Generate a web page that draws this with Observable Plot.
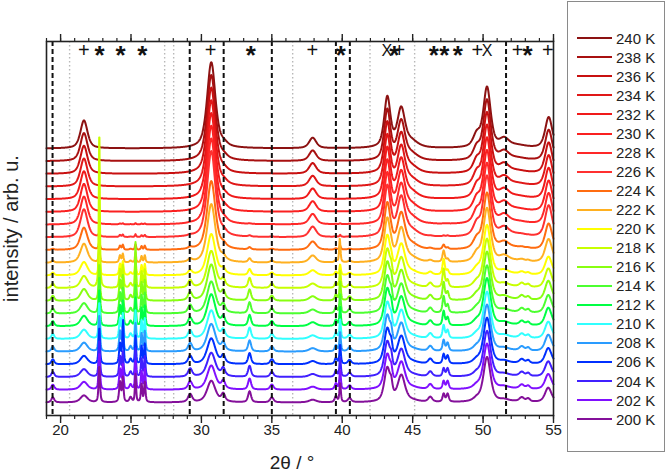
<!DOCTYPE html>
<html>
<head>
<meta charset="utf-8">
<script src="https://cdn.jsdelivr.net/npm/d3@7"></script>
<script src="https://cdn.jsdelivr.net/npm/@observablehq/plot@0.6"></script>
<style>
  body { margin: 0; background: #fff; font-family: "Liberation Sans", Arial, sans-serif; }
  #wrap { position: relative; width: 666px; height: 473px; }
  #chart { position: absolute; left: 0; top: 0; }
  #legend { position: absolute; left: 567px; top: 1px; width: 98px; height: 451px;
            border: 1px solid #8a8a8a; box-sizing: border-box; background: #fff; }
  .row { position: absolute; left: 9px; height: 19px; display: flex; align-items: center; }
  .row .sw { width: 35px; height: 0; border-top: 2.5px solid; margin-right: 4px; }
  .row span { font-size: 15px; color: #222; line-height: 19px; }
</style>
</head>
<body>
<div id="wrap"><div id="chart"></div><div id="legend"></div></div>
<script>
// Measurement temperatures (K), lowest first
const temperatures = [200, 202, 204, 206, 208, 210, 212, 214, 216, 218, 220,
                      222, 224, 226, 228, 230, 232, 234, 236, 238, 240];
const traceColors = ["#84109a", "#8010ff", "#4020ff", "#0030ff", "#2a9cff", "#30ffff", "#00ff44",
                     "#4cff30", "#88ff10", "#c8ff00", "#ffff00", "#ffb020", "#ff6c10", "#ff3030",
                     "#ff2828", "#fa2020", "#f01a1a", "#e01818", "#c81010", "#a81010", "#8c1212"];
const traceOffset = 12.7;   // vertical shift between successive patterns

// Reflections seen at every temperature: [2θ, FWHM, height]
const commonPeaks = [
  [43.20, 0.50, 28],
  [44.20, 0.60, 22],
  [50.28, 0.60, 40]
];

// High-temperature phase (+): [2θ, FWHM, height at full fraction]
const highPeaks = [
  [21.66, 0.60, 28],
  [30.70, 0.70, 86],
  [31.60, 0.60, 3],
  [37.90, 0.60, 10.5],
  [43.20, 0.55, 22],
  [44.16, 0.70, 16],
  [44.90, 1.10, 6],
  [49.55, 0.60, 12],
  [50.28, 0.65, 20],
  [51.50, 0.80, 8],
  [52.40, 1.60, 2.5],
  [54.66, 0.60, 31]
];
const highFraction = [0.25, 0.28, 0.28, 0.30, 0.32, 0.33, 0.37, 0.37, 0.42, 0.43, 0.48,
                      0.68, 0.80, 1, 1, 1, 1, 1, 1, 1, 1];

// Low-temperature phase (*): [2θ, FWHM, height at full fraction]
const lowPeaks = [
  [19.45, 0.25, 5],
  [22.75, 0.12, 36],
  [24.22, 0.15, 20],
  [24.42, 0.12, 24],
  [24.97, 0.20, 5],
  [25.32, 0.10, 28],
  [25.75, 0.12, 18],
  [25.98, 0.12, 20],
  [29.20, 0.35, 8],
  [31.55, 0.30, 7],
  [33.42, 0.25, 11],
  [35.00, 0.30, 5],
  [39.55, 0.20, 6],
  [39.85, 0.12, 19],
  [40.52, 0.30, 4],
  [43.48, 0.20, 9],
  [46.25, 0.35, 5],
  [47.20, 0.18, 8],
  [47.48, 0.20, 8],
  [52.75, 0.40, 4],
  [53.20, 0.30, 3],
  [54.60, 0.50, 7]
];
const lowFraction = [1, 1, 1, 1, 1, 1, 1, 1, 1, 0.9, 0.55,
                     0.35, 0.2, 0.1, 0.04, 0, 0, 0, 0, 0, 0];

// Intermediate reflection strongest around 216–220 K
const midPeaks = [[47.20, 0.20, 14]];
const midFraction = [0, 0, 0, 0.1, 0.2, 0.35, 0.45, 0.6, 0.7, 0.8, 0.8,
                     0.6, 0.2, 0, 0, 0, 0, 0, 0, 0, 0];

// Isolated sharp reflections of single patterns
const sharpSpikes = [
  {temperature: 218, position: 22.75, fwhm: 0.08, height: 125},
  {temperature: 216, position: 25.32, fwhm: 0.08, height: 30},
  {temperature: 206, position: 24.45, fwhm: 0.08, height: 22},
  {temperature: 222, position: 39.82, fwhm: 0.10, height: 18}
];

// Reference lines and phase markers
const dashedGuides = [19.43, 29.17, 31.58, 35.0, 39.55, 40.54, 51.63];
const dottedGuides = [20.64, 27.39, 28.03, 36.48, 41.97, 45.14];
const markerAngles  = [21.66, 22.77, 24.26, 25.8, 30.66, 33.5, 37.88, 39.9, 43.17, 43.7, 44.05,
                       46.5, 47.25, 48.2, 49.6, 50.28, 52.45, 53.16, 54.6];
const markerSymbols = ["+", "*", "*", "*", "+", "*", "+", "*", "X", "*", "+",
                       "*", "*", "*", "+", "X", "+", "*", "+"];
const majorTicks = [20, 25, 30, 35, 40, 45, 50, 55];

// Pseudo-Voigt line shape with unit maximum
function shape(x, x0, w) {
  const t = (x - x0) / w, t2 = 4 * t * t;
  return 0.6 / (1 + t2) + 0.4 * Math.exp(-Math.LN2 * t2);
}

const angles = d3.range(19, 55.0001, 0.02);
const rows = [];
for (let i = temperatures.length - 1; i >= 0; --i) {   // 240 K drawn first, 200 K last
  const T = temperatures[i];
  const peaks = [
    ...commonPeaks,
    ...highPeaks.map(([p, w, h]) => [p, w, h * highFraction[i]]),
    ...lowPeaks.map(([p, w, h]) => [p, w, h * lowFraction[i]]),
    ...midPeaks.map(([p, w, h]) => [p, w, h * midFraction[i]]),
    ...sharpSpikes.filter(s => s.temperature === T).map(s => [s.position, s.fwhm, s.height])
  ].filter(d => d[2] > 0);
  for (const a of angles) {
    let s = 0;
    for (const [p, w, h] of peaks) s += h * shape(a, p, w);
    rows.push({temperature: T, angle: a, intensity: i * traceOffset + s});
  }
}

const markers = markerAngles.map((a, k) => ({angle: a, symbol: markerSymbols[k]}));
const font = "Liberation Sans, Arial, sans-serif";

const chart = Plot.plot({
  width: 566,
  height: 473,
  marginLeft: 46,
  marginRight: 13,
  marginTop: 41,
  marginBottom: 58,
  x: {domain: [19, 55], axis: null},
  y: {domain: [-13, 361], axis: null},
  color: {type: "ordinal", domain: temperatures, range: traceColors},
  style: {fontFamily: font, fontSize: "15px", color: "#222", background: "transparent"},
  marks: [
    Plot.ruleX(dottedGuides, {stroke: "#b8b8b8", strokeWidth: 1.4, strokeDasharray: "1.5,2.5"}),
    Plot.line(rows, {x: "angle", y: "intensity", z: "temperature", stroke: "temperature",
                     strokeWidth: 2, curve: "linear"}),
    Plot.ruleX(dashedGuides, {stroke: "#111", strokeWidth: 2, strokeDasharray: "5,3"}),
    Plot.frame({stroke: "#222", strokeWidth: 1.6}),
    Plot.axisX({anchor: "bottom", ticks: majorTicks, tickSize: 8, tickPadding: 1,
                strokeWidth: 1.4, fontSize: 15, label: null}),
    Plot.axisX({anchor: "bottom", ticks: d3.range(19, 56), tickSize: 4, strokeWidth: 1.2,
                tickFormat: () => "", label: null}),
    Plot.axisX({anchor: "top", ticks: majorTicks, tickSize: 8, strokeWidth: 1.4,
                tickFormat: () => "", label: null}),
    Plot.axisX({anchor: "top", ticks: d3.range(19, 56), tickSize: 4, strokeWidth: 1.2,
                tickFormat: () => "", label: null}),
    Plot.text(markers.filter(d => d.symbol === "+"), {x: "angle", text: "symbol", frameAnchor: "top",
                lineAnchor: "middle", dy: 9, fontSize: 20, fill: "#111"}),
    Plot.text(markers.filter(d => d.symbol === "X"), {x: "angle", text: "symbol", frameAnchor: "top",
                lineAnchor: "middle", dy: 9, fontSize: 16, fill: "#111"}),
    Plot.text(markers.filter(d => d.symbol === "*"), {x: "angle", text: "symbol", frameAnchor: "top",
                lineAnchor: "middle", dy: 14, fontSize: 26, fontWeight: "bold", fill: "#111"}),
    Plot.text(["2θ / °"], {frameAnchor: "bottom", textAnchor: "middle", lineAnchor: "middle",
                dx: -8, dy: 47, fontSize: 19, fill: "#222"}),
    Plot.text(["intensity / arb. u."], {frameAnchor: "left", textAnchor: "middle", lineAnchor: "middle",
                dx: -35, rotate: -90, fontSize: 20, fill: "#222"})
  ]
});
document.getElementById("chart").appendChild(chart);

// Legend: highest temperature at the top
const legend = document.getElementById("legend");
temperatures.slice().reverse().forEach((T, k) => {
  const i = temperatures.indexOf(T);
  const row = document.createElement("div");
  row.className = "row";
  row.style.top = (36.3 + 19.04 * k - 9.5) + "px";
  row.innerHTML = `<div class="sw" style="border-color:${traceColors[i]}"></div><span>${T} K</span>`;
  legend.appendChild(row);
});
</script>
</body>
</html>
